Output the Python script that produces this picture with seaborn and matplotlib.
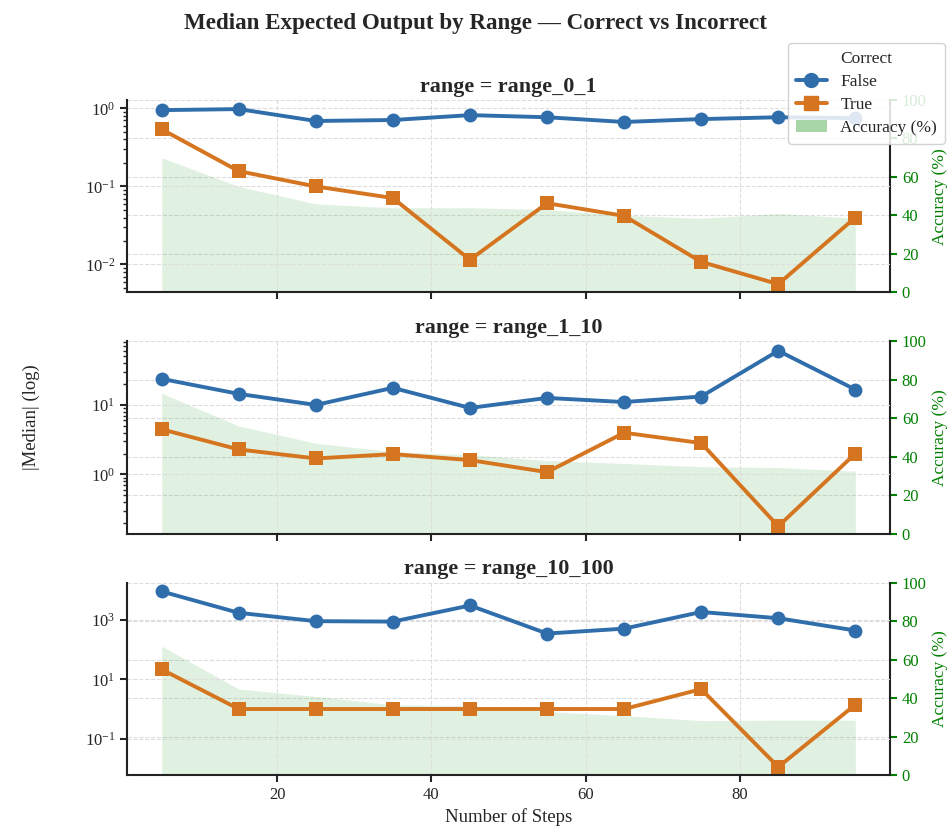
import numpy as np
import pandas as pd
import matplotlib
matplotlib.use("Agg")
import matplotlib.pyplot as plt
import seaborn as sns
from matplotlib.lines import Line2D
from matplotlib.patches import Patch

steps = [5, 15, 25, 35, 45, 55, 65, 75, 85, 95]
ranges = ["range_0_1", "range_1_10", "range_10_100"]

false_0_1 = [0.95, 0.98, 0.69, 0.71, 0.82, 0.77, 0.67, 0.73, 0.77, 0.75]
true_0_1 = [0.54, 0.157, 0.10, 0.071, 0.0115, 0.061, 0.042, 0.0108, 0.0056, 0.040]
acc_0_1 = [70, 55, 46, 44, 44, 43, 40, 38.5, 41, 38.5]

false_1_10 = [23.7, 14.4, 10.0, 17.6, 9.05, 12.6, 11.0, 13.2, 60.0, 16.6]
true_1_10 = [4.46, 2.29, 1.70, 1.96, 1.61, 1.08, 3.98, 2.83, 0.18, 2.0]
acc_1_10 = [73, 56, 47, 42.6, 41, 38, 36.5, 34.8, 34.4, 32.5]

false_10_100 = [9400, 1780, 930, 900, 3150, 355, 520, 1900, 1170, 450]
true_10_100 = [21.8, 1.0, 1.0, 1.0, 1.0, 1.0, 1.0, 4.7, 0.011, 1.4]
acc_10_100 = [67, 44.7, 40.8, 36.5, 36, 33, 30.8, 28.3, 28.5, 28.5]

false_vals = {"range_0_1": false_0_1, "range_1_10": false_1_10, "range_10_100": false_10_100}
true_vals = {"range_0_1": true_0_1, "range_1_10": true_1_10, "range_10_100": true_10_100}
acc_vals = {"range_0_1": acc_0_1, "range_1_10": acc_1_10, "range_10_100": acc_10_100}
ylims = {"range_0_1": (0.0044, 1.28), "range_1_10": (0.141, 82), "range_10_100": (0.0059, 18600)}

rows = []
for r in ranges:
    for s, v in zip(steps, false_vals[r]):
        rows.append({"range": r, "steps": s, "correct": "False", "median": v})
    for s, v in zip(steps, true_vals[r]):
        rows.append({"range": r, "steps": s, "correct": "True", "median": v})
df = pd.DataFrame(rows)

sns.set_theme(style="ticks")
plt.rcParams["font.family"] = ["Liberation Serif", "DejaVu Serif"]
plt.rcParams["mathtext.fontset"] = "stix"

BLUE = "#2f6eab"
ORANGE = "#d5751f"
palette = {"False": BLUE, "True": ORANGE}

fig, axes = plt.subplots(3, 1, figsize=(9.52, 8.35), dpi=100, sharex=True)
fig.subplots_adjust(left=0.1334, right=0.9349, top=0.8802, bottom=0.0719, hspace=0.255)

for ax, r in zip(axes, ranges):
    ax2 = ax.twinx()
    ax2.fill_between(steps, acc_vals[r], 0, color="#4caf50", alpha=0.17, linewidth=0)
    ax2.set_ylim(0, 100)
    ax2.set_yticks([0, 20, 40, 60, 80, 100])
    ax2.tick_params(axis="y", colors="green", labelsize=12, width=1.5, length=5)
    ax2.set_ylabel("Accuracy (%)", color="green", fontsize=12.5)
    ax2.grid(True, axis="y", linestyle="--", color="#dddddd", linewidth=0.8)
    for sp in ["top", "left", "bottom"]:
        ax2.spines[sp].set_visible(False)
    ax2.spines["right"].set_linewidth(1.5)
    ax2.spines["right"].set_color("#222222")

    ax.set_zorder(ax2.get_zorder() + 1)
    ax.patch.set_visible(False)

    sub = df[df["range"] == r]
    sns.lineplot(data=sub, x="steps", y="median", hue="correct", style="correct",
                 markers={"False": "o", "True": "s"}, dashes=False, palette=palette,
                 hue_order=["False", "True"], style_order=["False", "True"],
                 linewidth=2.8, markersize=10, markeredgewidth=0, ax=ax, legend=False)
    ax.set_yscale("log")
    ax.set_ylim(*ylims[r])
    ax.set_xlim(0.5, 99.5)
    ax.set_title(f"range = {r}", fontsize=15.8, fontweight="bold")
    ax.set_xlabel("")
    ax.set_ylabel("")
    ax.grid(True, which="major", linestyle="--", color="#dddddd", linewidth=0.8)
    ax.tick_params(axis="both", which="major", labelsize=12, width=1.5, length=5)
    ax.tick_params(axis="y", which="minor", width=1.0, length=3)
    for sp in ["top", "right"]:
        ax.spines[sp].set_visible(False)
    for sp in ["left", "bottom"]:
        ax.spines[sp].set_linewidth(1.5)
        ax.spines[sp].set_color("#222222")

axes[-1].set_xticks([20, 40, 60, 80])
axes[-1].set_xlabel("Number of Steps", fontsize=13.5)
fig.text(0.033, 0.5, "|Median| (log)", rotation=90, va="center", ha="center", fontsize=13.5)
fig.suptitle("Median Expected Output by Range \u2014 Correct vs Incorrect",
             fontsize=16.6, fontweight="bold", y=0.985)

handles = [
    Line2D([0], [0], color=BLUE, marker="o", linewidth=2.8, markersize=10, label="False"),
    Line2D([0], [0], color=ORANGE, marker="s", linewidth=2.8, markersize=10, label="True"),
    Patch(facecolor="#a9d6a9", edgecolor="none", label="Accuracy (%)"),
]
fig.legend(handles=handles, title="Correct", loc="upper right",
           bbox_to_anchor=(0.9926, 0.9485), borderaxespad=0, labelspacing=0.4,
           borderpad=0.45, handlelength=1.75, handletextpad=0.8,
           fontsize=12.5, title_fontsize=12.5, frameon=True, framealpha=0.85)

fig.savefig("out.png", dpi=100)
